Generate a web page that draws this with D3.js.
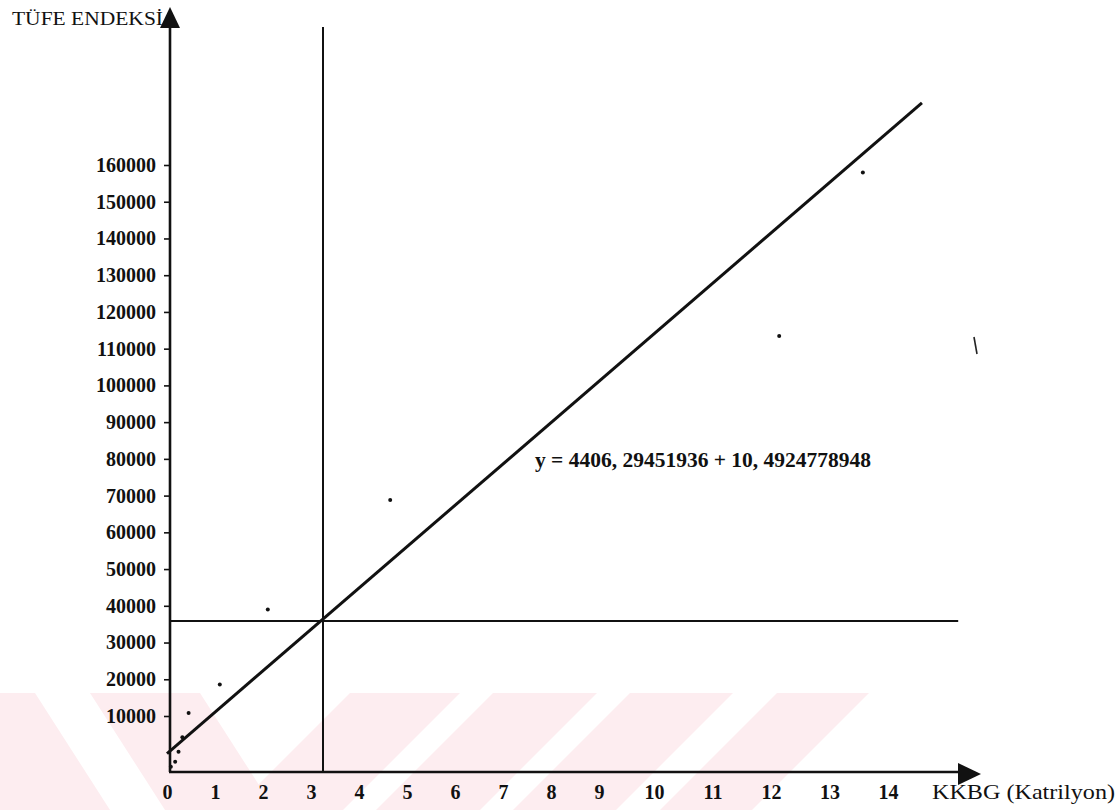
<!DOCTYPE html>
<html>
<head>
<meta charset="utf-8">
<script src="https://cdn.jsdelivr.net/npm/d3@7"></script>
<style>
  body { margin: 0; background: #fff; }
  svg { display: block; font-family: "Liberation Serif", "Times New Roman", serif; }
</style>
</head>
<body>
<svg id="chart" width="1119" height="810"></svg>
<script>
// --- data ---
const xTicks = [0, 1, 2, 3, 4, 5, 6, 7, 8, 9, 10, 11, 12, 13, 14];
const yTicks = [10000, 20000, 30000, 40000, 50000, 60000, 70000, 80000,
                90000, 100000, 110000, 120000, 130000, 140000, 150000, 160000];

// KKBG (katrilyon) and TÜFE index of the scatter points
const kkbg = [0.08, 0.17, 0.24, 0.32, 0.45, 1.10, 2.10, 4.65, 12.14, 13.57];
const tufe = [950, 1840, 3625, 6200, 10820, 18580, 39000, 68800, 113460, 157970];

// regression line ends and the two mean lines
const fitX = [0, 14.58];
const fitY = [3300, 176900];
const meanX = 3.25;
const meanY = 35860;
const meanLineTop = 197600;
const meanLineRight = 15.2;

const yTitle = "TÜFE ENDEKSİ";
const xTitle = "KKBG (Katrilyon)";
const equation = "y = 4406, 29451936 + 10, 4924778948";

// --- layout ---
const axisX = 170;
const svg = d3.select("#chart");

// hand drawn axis: uneven spacing after 9, first y step stretched
const x = d3.scaleLinear().domain([0, 9, 10, 14]).range([167, 599, 654, 888]);
const y = d3.scaleLinear().domain([0, 10000, 160000]).range([772, 716, 165]);
const axisY = y(0);

// watermark stripes at the bottom (top x-range, drift to the bottom edge)
const wmTop = 693, wmBottom = 810;
const stripes = [
  { x0: -200, x1: 35, drift: 75 },
  { x0: 90, x1: 200, drift: 75 },
  { x0: 350, x1: 460, drift: -117 },
  { x0: 493, x1: 597, drift: -117 },
  { x0: 630, x1: 733, drift: -117 },
  { x0: 777, x1: 869, drift: -117 }
];

svg.append("g")
  .selectAll("polygon")
  .data(stripes)
  .join("polygon")
  .attr("points", d => [
    [d.x0, wmTop], [d.x1, wmTop],
    [d.x1 + d.drift, wmBottom], [d.x0 + d.drift, wmBottom]
  ].join(" "))
  .attr("fill", "#fdedf0");

// mean lines
svg.append("line")
  .attr("x1", x(meanX)).attr("x2", x(meanX))
  .attr("y1", y(meanLineTop)).attr("y2", axisY)
  .attr("stroke", "#111").attr("stroke-width", 2);

svg.append("line")
  .attr("x1", axisX).attr("x2", x(meanLineRight))
  .attr("y1", y(meanY)).attr("y2", y(meanY))
  .attr("stroke", "#111").attr("stroke-width", 2.2);

// regression line
svg.append("line")
  .attr("x1", x(fitX[0])).attr("y1", y(fitY[0]))
  .attr("x2", x(fitX[1])).attr("y2", y(fitY[1]))
  .attr("stroke", "#111").attr("stroke-width", 3);

// axes
const yAxis = svg.append("g")
  .attr("transform", `translate(${axisX},0)`)
  .call(d3.axisLeft(y).tickValues(yTicks).tickSize(6).tickPadding(8).tickFormat(d3.format("d")));
yAxis.select(".domain").remove();
yAxis.selectAll("line").attr("stroke", "#111").attr("stroke-width", 1.6);
yAxis.selectAll("text")
  .attr("font-family", "'Liberation Serif', serif")
  .attr("font-size", 20).attr("font-weight", "bold").attr("fill", "#111");

const xAxis = svg.append("g")
  .attr("transform", `translate(0,${axisY})`)
  .call(d3.axisBottom(x).tickValues(xTicks).tickSize(0).tickPadding(12.5).tickFormat(d3.format("d")));
xAxis.select(".domain").remove();
xAxis.selectAll("text")
  .attr("font-family", "'Liberation Serif', serif")
  .attr("font-size", 20).attr("font-weight", "bold").attr("fill", "#111");

svg.append("line")
  .attr("x1", axisX).attr("x2", axisX)
  .attr("y1", axisY).attr("y2", 26)
  .attr("stroke", "#111").attr("stroke-width", 2.6);
svg.append("polygon")
  .attr("points", `${axisX},7 ${axisX - 10},28 ${axisX + 10},28`)
  .attr("fill", "#111");

svg.append("line")
  .attr("x1", axisX - 1).attr("x2", 962)
  .attr("y1", axisY).attr("y2", axisY)
  .attr("stroke", "#111").attr("stroke-width", 2.6);
svg.append("polygon")
  .attr("points", `958,763 958,785 981,774`)
  .attr("fill", "#111");

// scatter points
svg.append("g")
  .selectAll("circle")
  .data(kkbg.map((k, i) => ({ x: k, y: tufe[i] })))
  .join("circle")
  .attr("cx", d => x(d.x))
  .attr("cy", d => y(d.y))
  .attr("r", 2)
  .attr("fill", "#111");

// stray scan mark on the right
svg.append("line")
  .attr("x1", 974).attr("y1", 337).attr("x2", 977).attr("y2", 354)
  .attr("stroke", "#222").attr("stroke-width", 1.6);

// titles and equation
svg.append("text")
  .attr("x", 12).attr("y", 25)
  .attr("font-size", 18)
  .attr("textLength", 151).attr("lengthAdjust", "spacingAndGlyphs")
  .attr("fill", "#111")
  .text(yTitle);

svg.append("text")
  .attr("x", 932).attr("y", 799)
  .attr("font-size", 21)
  .attr("textLength", 183).attr("lengthAdjust", "spacingAndGlyphs")
  .attr("fill", "#111")
  .text(xTitle);

svg.append("text")
  .attr("x", 535).attr("y", 467)
  .attr("font-size", 20).attr("font-weight", "bold")
  .attr("textLength", 336).attr("lengthAdjust", "spacingAndGlyphs")
  .attr("fill", "#111")
  .text(equation);
</script>
</body>
</html>
